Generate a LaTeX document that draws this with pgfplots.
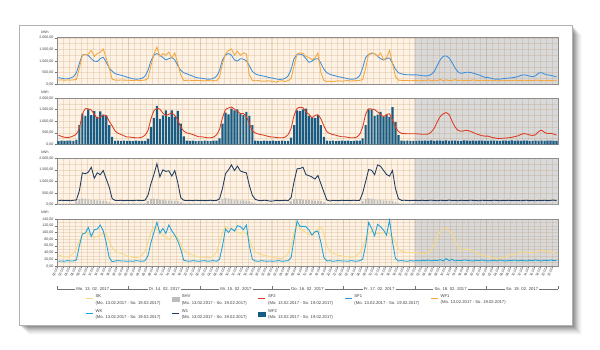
\documentclass[border=0pt]{standalone}
\usepackage{fontspec}
\setmainfont{Liberation Sans}
\usepackage{pgfplots}
\usepackage{pgfplotstable}
\pgfplotsset{compat=1.18}

\definecolor{cSF1}{HTML}{3D8FDB}
\definecolor{cWF1}{HTML}{F5A63C}
\definecolor{cSF2}{HTML}{DE3A1F}
\definecolor{cWF2}{HTML}{175C84}
\definecolor{cW1}{HTML}{1E3A60}
\definecolor{cSHV}{HTML}{BDBDBD}
\definecolor{cSK}{HTML}{F8D982}
\definecolor{cWK}{HTML}{1CA2DA}
\definecolor{bgday}{HTML}{FDF2E4}
\definecolor{bgwe}{HTML}{D9D9D9}
\definecolor{gridc}{HTML}{A8743A}

\newcommand{\ft}{\fontsize{3.6}{4.2}\selectfont}
\newcommand{\fx}{\fontsize{3.4}{4}\selectfont}
\newcommand{\fl}{\fontsize{4.2}{4.6}\selectfont}

% hourly values Mo 13.02.2017 00:00 ... So 19.02.2017 23:00
\pgfplotstableread{
sfa wfa sfb wfb wa shv sk wk
290 180 400 150 175 50 34 14
260 190 350 170 190 45 30 15
240 175 310 160 180 50 27 14
240 185 300 165 185 48 27 16
270 180 320 170 170 52 30 15
330 190 370 155 190 50 38 15
500 210 450 200 200 140 52 18
900 700 700 830 600 240 75 60
1250 1250 1300 1330 1370 270 95 95
1280 1280 1540 1230 1330 250 100 98
1240 1300 1530 1510 1400 230 97 115
1100 1460 1480 1260 1610 210 90 88
1000 1200 1300 1430 1140 200 85 108
985 1320 1120 1190 1370 190 88 110
1100 1380 1180 1420 1290 180 92 122
1160 1520 1260 1280 1470 170 97 105
950 1130 1240 1250 1110 150 95 70
700 700 1000 830 760 100 75 25
560 220 800 330 260 55 55 13
460 180 580 160 185 50 45 15
420 175 480 170 180 48 40 16
390 185 430 155 190 52 37 15
350 180 370 165 175 50 34 15
310 175 320 160 185 48 30 14
270 170 320 160 180 48 28 15
240 160 300 150 175 52 26 14
220 175 290 170 190 50 25 16
230 165 290 160 185 46 27 15
260 170 320 155 180 50 32 14
350 180 400 160 190 52 45 16
600 250 600 240 400 150 70 30
1000 800 1100 760 900 250 100 70
1250 1300 1450 1140 1300 260 117 100
1320 1600 1550 1660 1760 240 110 130
1250 1200 1520 1100 1200 220 100 98
1150 1320 1350 1250 1500 200 92 112
1050 1250 1250 1470 1430 190 85 97
1100 1380 1300 1190 1460 185 80 122
1150 1130 1350 1470 1230 180 88 105
1050 1350 1250 1200 1470 175 92 92
800 900 1050 1450 950 160 85 75
600 400 750 900 300 110 65 50
500 165 580 350 190 55 48 17
450 170 500 170 180 50 40 15
400 175 470 160 185 52 36 14
350 160 430 165 175 48 33 16
300 170 380 150 190 50 30 15
270 165 330 160 180 46 27 14
260 160 330 150 185 50 27 15
240 140 310 165 175 48 26 16
220 170 290 160 180 46 25 14
225 150 290 150 190 52 26 15
260 160 320 170 175 50 30 16
350 150 420 165 185 48 42 14
600 300 650 260 250 160 70 20
1050 900 1150 900 700 260 100 60
1250 1300 1500 1370 1330 280 117 110
1320 1450 1570 1300 1500 260 112 100
1250 1520 1610 1540 1710 230 110 112
1050 1250 1520 1470 1470 210 108 104
1000 1420 1430 1510 1660 200 100 120
1100 1250 1330 1330 1450 190 97 117
1080 1350 1330 1260 1400 185 102 108
1000 1300 1200 1400 1370 175 95 122
800 400 900 1230 830 150 80 60
560 170 600 830 400 100 55 20
450 150 500 170 230 52 42 15
400 160 450 160 185 50 38 14
370 140 420 150 175 48 34 16
350 130 400 165 190 50 32 15
310 150 360 155 180 52 30 14
280 140 330 160 150 50 28 15
260 130 320 165 160 48 26 14
230 90 300 150 185 50 24 15
210 140 290 160 175 52 22 16
220 150 290 170 180 50 23 14
260 120 320 155 190 46 28 15
360 160 430 160 170 50 38 16
650 250 700 300 300 140 62 25
1100 800 1250 830 1000 230 100 80
1280 1300 1550 1470 1540 250 122 134
1300 1350 1600 1430 1560 240 112 118
1250 1330 1580 1510 1610 220 105 118
1100 1200 1400 1540 1290 200 100 117
950 1150 1300 1230 1250 195 95 107
1000 1060 1150 1140 1190 185 92 92
1080 1130 1250 1140 1100 180 100 102
1100 1350 1280 1260 1260 170 110 104
900 500 1100 830 900 150 117 70
650 170 800 330 540 95 95 25
500 120 550 170 200 50 60 15
430 130 470 160 160 48 45 16
390 110 430 165 185 50 38 14
360 140 400 150 180 52 34 15
320 150 360 160 175 48 32 16
300 130 330 170 190 50 30 15
270 150 330 160 180 50 28 15
240 160 310 170 185 52 27 14
220 140 290 150 175 48 26 16
225 150 290 160 190 50 27 15
260 160 320 165 180 50 32 14
380 170 440 170 185 52 40 16
700 200 750 260 500 150 55 20
1150 700 1300 830 1000 250 80 62
1280 1300 1540 1510 1510 270 97 130
1320 1350 1520 1510 1480 250 104 112
1320 1320 1500 1230 1290 230 100 90
1200 1200 1400 1290 1710 210 97 124
1100 1350 1290 1400 1650 200 97 117
1050 1050 1200 1190 1470 190 100 107
1100 1150 1280 1290 1300 180 102 92
1130 1460 1320 1190 1230 170 95 137
900 900 1050 1610 1470 160 85 72
650 330 750 970 690 110 70 22
500 180 560 400 260 55 50 15
450 170 480 170 185 52 45 16
420 160 470 160 190 50 42 15
410 170 460 165 180 48 40 14
405 150 460 155 175 50 40 16
405 160 460 160 185 52 40 15
405 160 460 160 185 50 40 16
390 150 450 170 180 48 38 15
370 170 440 155 190 52 37 17
360 150 440 165 175 50 37 16
370 200 450 160 185 46 40 18
430 140 540 175 195 50 47 15
550 180 700 150 180 52 65 17
800 160 970 165 170 48 87 16
1050 210 1200 170 190 55 102 19
1200 150 1320 160 185 50 112 15
1220 190 1370 180 175 52 113 22
1130 160 1280 155 200 48 105 16
930 170 1000 165 180 50 97 20
700 200 750 170 185 52 75 15
530 150 610 160 170 50 55 17
470 180 570 150 190 48 47 16
500 160 590 175 180 52 48 18
520 170 610 165 175 50 50 17
510 150 570 160 195 46 49 16
480 190 520 170 185 50 45 15
440 170 460 155 180 52 40 17
400 160 420 165 170 48 35 16
350 150 380 170 190 50 32 18
300 170 360 160 185 50 30 16
290 160 360 155 180 48 29 15
260 150 320 165 175 50 26 16
230 170 290 170 190 52 23 17
220 140 265 160 185 46 22 15
225 160 260 150 170 50 23 18
240 150 270 165 185 48 25 16
255 170 280 170 180 50 27 15
265 160 290 160 190 52 30 17
280 150 310 175 175 50 33 16
300 180 340 155 185 48 35 18
330 160 370 165 180 52 38 15
380 170 430 160 170 50 41 17
405 150 470 170 185 46 42 16
390 160 450 165 190 50 41 15
350 170 410 150 175 48 40 17
330 150 390 160 180 52 39 16
370 180 420 170 170 50 39 18
480 170 560 155 185 48 45 16
500 160 610 165 180 50 47 15
440 150 520 160 190 52 44 17
400 170 470 170 175 48 42 16
390 160 480 165 185 50 42 18
350 150 450 160 200 46 40 16
330 160 400 155 170 50 37 17
}\data

\pgfplotsset{
  panel/.style={
    width=501pt, scale only axis,
    xmin=0, xmax=168, ymin=0,
    xtick={0,2,...,166},
    xmajorgrids, ymajorgrids, yminorgrids,
    minor y tick num=1,
    major grid style={draw=gridc, draw opacity=0.17, line width=0.4pt},
    minor grid style={draw=gridc, draw opacity=0.17, line width=0.4pt},
    extra x ticks={24,48,72,96,120,144},
    extra x tick labels={},
    extra x tick style={grid=major, major grid style={draw=black!50, line width=0.9pt}},
    axis line style={draw=black!45, line width=0.7pt},
    tick align=outside, major tick length=2.5pt, minor tick length=0pt,
    ytick pos=left, xtick pos=bottom,
    ytick style={draw=black!55, line width=0.4pt},
    scaled y ticks=false,
    yticklabel style={font=\ft, text=black!75, inner sep=1pt,
      /pgf/number format/fixed, /pgf/number format/fixed zerofill,
      /pgf/number format/precision=2, /pgf/number format/use comma,
      /pgf/number format/1000 sep={.}, /pgf/number format/assume math mode=true},
  },
  toppanel/.style={panel, height=46.5pt, xticklabels={}, xtick style={draw=none},
    ymax=2000, ytick={0,500,...,2000}},
}

\begin{document}
\begin{tikzpicture}[x=1pt,y=1pt]
\useasboundingbox (0,0) rectangle (600,350);
% frame with shadow
\foreach \d/\o in {1/0.10,2/0.10,3/0.09,4/0.08,5/0.07,6/0.06,7/0.05,8/0.04,9/0.03,10/0.02}{
  \fill[black,opacity=\o] (19+\d,25-\d) rectangle (572+\d,325-\d);}
\fill[white, draw=black!30, line width=0.5pt] (19,25) rectangle (572,325);

% backgrounds
\foreach \yb/\h in {265.7/46.5, 205.5/46.5, 145.3/46.5, 84/47}{
  \fill[bgday] (57,\yb) rectangle (414.86,\yb+\h);
  \fill[bgwe] (414.86,\yb) rectangle (558,\yb+\h);
}

% panel 1: SF1, WF1
\begin{axis}[toppanel, at={(57pt,265.7pt)}, anchor=south west]
\addplot[cSF1, line width=0.85pt, smooth, tension=0.3, forget plot] table[x expr=\coordindex+0.5, y=sfa]{\data};
\addplot[cWF1, line width=0.85pt, forget plot] table[x expr=\coordindex+0.5, y=wfa]{\data};
\end{axis}

% panel 2: WF2 bars, SF2
\begin{axis}[toppanel, at={(57pt,205.5pt)}, anchor=south west]
\addplot[ybar, bar width=0.72, fill=cWF2, draw=none, forget plot] table[x expr=\coordindex+0.5, y=wfb]{\data};
\addplot[cSF2, line width=0.85pt, smooth, tension=0.3, forget plot] table[x expr=\coordindex+0.5, y=sfb]{\data};
\end{axis}

% panel 3: SHV bars, W1
\begin{axis}[toppanel, at={(57pt,145.3pt)}, anchor=south west]
\addplot[ybar, bar width=0.6, fill=cSHV, draw=none, forget plot] table[x expr=\coordindex+0.5, y=shv]{\data};
\addplot[cW1, line width=0.85pt, forget plot] table[x expr=\coordindex+0.5, y=wa]{\data};
\end{axis}

% panel 4: SK, WK + legend
\begin{axis}[panel, height=47pt, at={(57pt,84pt)}, anchor=south west,
  ymax=140, ytick={0,20,...,140},
  xtick style={draw=black!50, line width=0.3pt},
  xticklabel={\pgfmathtruncatemacro\hh{mod(round(\tick),24)}\ifnum\hh<10 0\fi\hh:00},
  xticklabel style={font=\fx, text=black!75, rotate=65, anchor=east, inner sep=0.2pt, outer sep=0pt},
  legend columns=5,
  legend cell align=left,
  legend style={at={(0.056,-0.57)}, anchor=north west, draw=none, fill=none,
    font=\fl, text=black!75, inner sep=0pt, row sep=0.5pt,
    /tikz/every even column/.append style={column sep=9pt}},
]
\addplot[cSK, line width=0.85pt, smooth, tension=0.3, forget plot] table[x expr=\coordindex+0.5, y=sk]{\data};
\addplot[cWK, line width=0.85pt, forget plot] table[x expr=\coordindex+0.5, y=wk]{\data};

\addlegendimage{legend image code/.code={\draw[cSK,line width=1.3pt] (0pt,1.5pt) -- (7pt,1.5pt);}}
\addlegendentry{\shortstack[l]{SK\\(Mo. 13.02.2017 - So. 19.02.2017)}}
\addlegendimage{legend image code/.code={\fill[cSHV] (0pt,-0.5pt) rectangle (7pt,3.5pt);}}
\addlegendentry{\shortstack[l]{SHV\\(Mo. 13.02.2017 - So. 19.02.2017)}}
\addlegendimage{legend image code/.code={\draw[cSF2,line width=1.3pt] (0pt,1.5pt) -- (7pt,1.5pt);}}
\addlegendentry{\shortstack[l]{SF2\\(Mo. 13.02.2017 - So. 19.02.2017)}}
\addlegendimage{legend image code/.code={\draw[cSF1,line width=1.3pt] (0pt,1.5pt) -- (7pt,1.5pt);}}
\addlegendentry{\shortstack[l]{SF1\\(Mo. 13.02.2017 - So. 19.02.2017)}}
\addlegendimage{legend image code/.code={\draw[cWF1,line width=1.3pt] (0pt,1.5pt) -- (7pt,1.5pt);}}
\addlegendentry{\shortstack[l]{WF1\\(Mo. 13.02.2017 - So. 19.02.2017)}}
\addlegendimage{legend image code/.code={\draw[cWK,line width=1.3pt] (0pt,1.5pt) -- (7pt,1.5pt);}}
\addlegendentry{\shortstack[l]{WK\\(Mo. 13.02.2017 - So. 19.02.2017)}}
\addlegendimage{legend image code/.code={\draw[cW1,line width=1.3pt] (0pt,1.5pt) -- (7pt,1.5pt);}}
\addlegendentry{\shortstack[l]{W1\\(Mo. 13.02.2017 - So. 19.02.2017)}}
\addlegendimage{legend image code/.code={\fill[cWF2] (0pt,-0.5pt) rectangle (7pt,3.5pt);}}
\addlegendentry{\shortstack[l]{WF2\\(Mo. 13.02.2017 - So. 19.02.2017)}}
\end{axis}

% kWh labels
\foreach \yy in {318,258,198,138}{\node[font=\ft, text=black!75] at (45,\yy) {kWh};}

% day row
\foreach \xa/\xb/\xc/\lab in {57/128.57/92.79/{Mo. 13. 02. 2017}, 128.57/200.14/164.36/{Di. 14. 02. 2017},
  200.14/271.71/235.93/{Mi. 15. 02. 2017}, 271.71/343.29/307.5/{Do. 16. 02. 2017},
  343.29/414.86/379.07/{Fr. 17. 02. 2017}, 414.86/486.43/450.64/{Sa. 18. 02. 2017},
  486.43/558/522.21/{So. 19. 02. 2017}}{
  \draw[black!55, line width=0.4pt] (\xa,61) -- (\xb,61);
  \draw[black!55, line width=0.4pt] (\xa,61) -- (\xa,63.5);
  \node[fill=white, inner sep=1.2pt, font=\fl, text=black!75] at (\xc,61) {\lab};
}
\draw[black!55, line width=0.4pt] (558,61) -- (558,63.5);
\end{tikzpicture}
\end{document}
